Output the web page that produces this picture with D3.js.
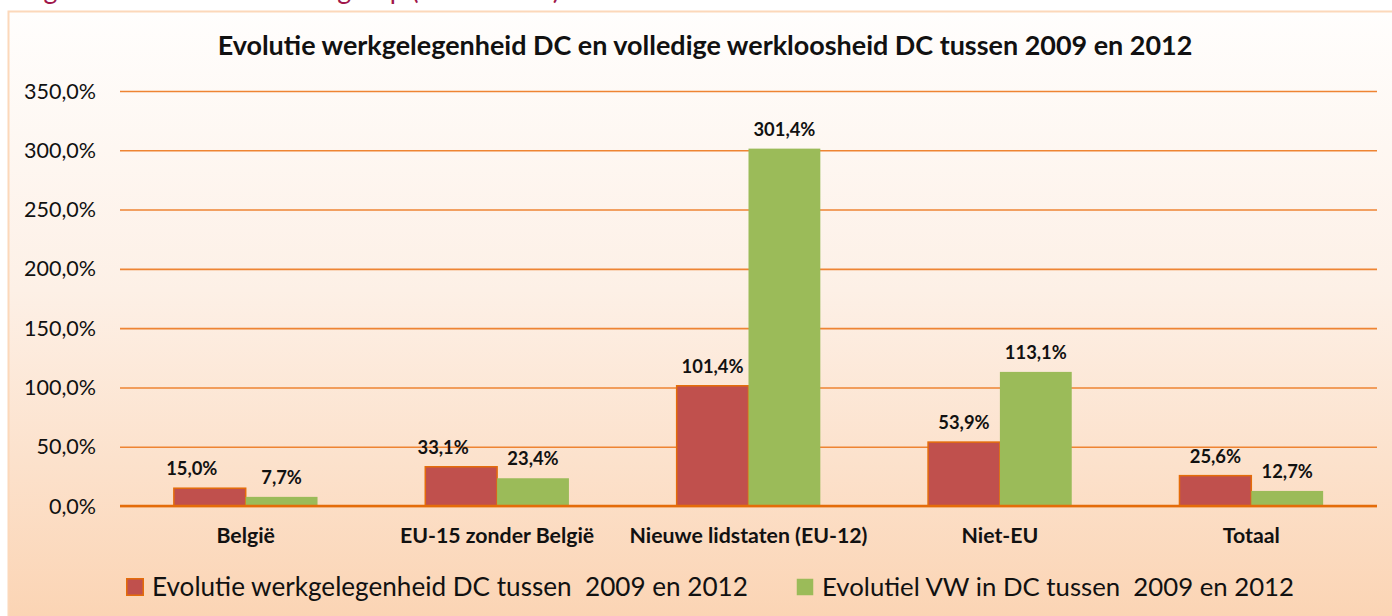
<!DOCTYPE html>
<html>
<head>
<meta charset="utf-8">
<script src="https://cdn.jsdelivr.net/npm/d3@7"></script>
<style>
  html, body { margin: 0; padding: 0; background: #ffffff; }
  svg { display: block; font-family: "Lato", "Open Sans", sans-serif; }
</style>
</head>
<body>
<div id="chart"></div>
<script>
// chart data
var categories = ["België", "EU-15 zonder België", "Nieuwe lidstaten (EU-12)", "Niet-EU", "Totaal"];
var werkgelegenheid = [15.0, 33.1, 101.4, 53.9, 25.6];
var werkloosheid = [7.7, 23.4, 301.4, 113.1, 12.7];
var yTicks = [0, 50, 100, 150, 200, 250, 300, 350];
var seriesNames = ["Evolutie werkgelegenheid DC tussen  2009 en 2012", "Evolutiel VW in DC tussen  2009 en 2012"];
var chartTitle = "Evolutie werkgelegenheid DC en volledige werkloosheid DC tussen 2009 en 2012";
var captionText = "Figuur 3: Evolutie DC naar groep (2009-2012)";

var width = 1392, height = 616;
var plot = {left: 120, right: 1377, top: 91, bottom: 506};
var red = "#C0504D", redStroke = "#E46C0A", green = "#9BBB59", grid = "#EE8433";

var svg = d3.select("#chart").append("svg")
    .attr("width", width)
    .attr("height", height);

var defs = svg.append("defs");
var grad = defs.append("linearGradient")
    .attr("id", "bg").attr("x1", 0).attr("y1", 0).attr("x2", 0).attr("y2", 1);
grad.append("stop").attr("offset", "0%").attr("stop-color", "#fffefd");
grad.append("stop").attr("offset", "45%").attr("stop-color", "#fdf0e6");
grad.append("stop").attr("offset", "100%").attr("stop-color", "#fbd3b2");

// shrink or grow a text's font size so it spans the wanted width
function fitWidth(sel, target) {
    var fs = parseFloat(sel.attr("font-size"));
    var w = sel.node().getComputedTextLength();
    var k = target / w;
    return fs * k;
}

// caption above the chart, mostly cut off by the page edge
svg.append("text")
    .attr("x", 22).attr("y", -1)
    .attr("font-size", 28)
    .attr("fill", "#A0174B")
    .attr("textLength", 538)
    .attr("lengthAdjust", "spacingAndGlyphs")
    .text(captionText);

// chart area
svg.append("rect")
    .attr("x", 8.5).attr("y", 11.5)
    .attr("width", 1400).attr("height", 620)
    .attr("fill", "url(#bg)")
    .attr("stroke", "#FCD8BA")
    .attr("stroke-width", 2);

var title = svg.append("text")
    .attr("x", 705).attr("y", 55)
    .attr("text-anchor", "middle")
    .attr("font-weight", "bold")
    .attr("font-size", 22)
    .attr("fill", "#111")
    .text(chartTitle);
title.attr("font-size", fitWidth(title, 975));

var x = d3.scaleBand().domain(categories).range([plot.left, plot.right]);
var y = d3.scaleLinear().domain([0, 350]).range([plot.bottom, plot.top]);
var barW = x.step() / 3.5;
var xs = d3.scaleBand().domain([0, 1]).range([0, 2 * barW]);

// y axis with full-width grid lines
var fmt = function (d) { return d3.format(".1f")(d).replace(".", ",") + "%"; };
var yAxis = d3.axisLeft(y)
    .tickValues(yTicks)
    .tickSize(-(plot.right - plot.left))
    .tickPadding(24)
    .tickFormat(fmt);

var gy = svg.append("g")
    .attr("transform", "translate(" + plot.left + ",0)")
    .call(yAxis);
gy.select(".domain").remove();
gy.selectAll(".tick line").attr("stroke", grid).attr("stroke-width", 1.6);
gy.selectAll(".tick text")
    .attr("fill", "#111")
    .attr("font-family", "Lato, sans-serif")
    .attr("font-size", 19)
    .attr("dy", "7");
var tickFs = fitWidth(gy.selectAll(".tick text").filter(function (d) { return d === 350; }), 72);
gy.selectAll(".tick text").attr("font-size", tickFs);

// bars
var series = [
    {name: seriesNames[0], values: werkgelegenheid, fill: red, stroke: redStroke},
    {name: seriesNames[1], values: werkloosheid, fill: green, stroke: "none"}
];
var groupX = function (c) { return x(c) + (x.step() - 2 * barW) / 2; };

series.forEach(function (s, si) {
    svg.append("g").selectAll("rect")
        .data(categories)
        .enter().append("rect")
        .attr("x", function (c) { return groupX(c) + xs(si); })
        .attr("y", function (c, i) { return y(s.values[i]); })
        .attr("width", barW)
        .attr("height", function (c, i) { return y(0) - y(s.values[i]); })
        .attr("fill", s.fill)
        .attr("stroke", s.stroke)
        .attr("stroke-width", 1.5);
});

// zero line on top of the bar bottoms
svg.append("line")
    .attr("x1", plot.left).attr("x2", plot.right)
    .attr("y1", y(0)).attr("y2", y(0))
    .attr("stroke", "#E46C0A")
    .attr("stroke-width", 2.5);

// data labels; the first two red labels were nudged left in the original
var redNudge = {"België": -18, "EU-15 zonder België": -18};
var labelG = svg.append("g")
    .attr("font-weight", "bold")
    .attr("fill", "#111")
    .attr("text-anchor", "middle");
series.forEach(function (s, si) {
    labelG.selectAll(".lbl" + si)
        .data(categories)
        .enter().append("text")
        .attr("class", "lbl lbl" + si)
        .attr("x", function (c) {
            var nudge = si === 0 && redNudge[c] ? redNudge[c] : 0;
            return groupX(c) + xs(si) + barW / 2 + nudge;
        })
        .attr("y", function (c, i) { return y(s.values[i]) - 13; })
        .attr("font-size", 15)
        .text(function (c, i) { return fmt(s.values[i]); });
});
var lblFs = fitWidth(labelG.selectAll(".lbl1").filter(function (c) { return c === categories[2]; }), 62);
labelG.selectAll(".lbl").attr("font-size", lblFs);

// category labels
var catG = svg.append("g")
    .attr("font-weight", "bold")
    .attr("fill", "#111")
    .attr("text-anchor", "middle");
catG.selectAll("text")
    .data(categories)
    .enter().append("text")
    .attr("x", function (c) { return x(c) + x.bandwidth() / 2; })
    .attr("y", 543)
    .attr("font-size", 17)
    .text(function (c) { return c; });
var catFs = fitWidth(catG.selectAll("text").filter(function (c) { return c === categories[2]; }), 238);
catG.selectAll("text").attr("font-size", catFs);

// legend
var legendX = [126, 796];
var legendW = [596, 472];
var legend = svg.append("g");
series.forEach(function (s, si) {
    legend.append("rect")
        .attr("x", legendX[si] + 0.75).attr("y", 578.75)
        .attr("width", 16.5).attr("height", 16.5)
        .attr("fill", s.fill)
        .attr("stroke", s.stroke)
        .attr("stroke-width", 1.5);
    var t = legend.append("text")
        .attr("x", legendX[si] + 26).attr("y", 596)
        .attr("font-size", 25)
        .attr("fill", "#111")
        .style("white-space", "pre")
        .text(s.name);
    t.attr("font-size", fitWidth(t, legendW[si]));
});
</script>
</body>
</html>
